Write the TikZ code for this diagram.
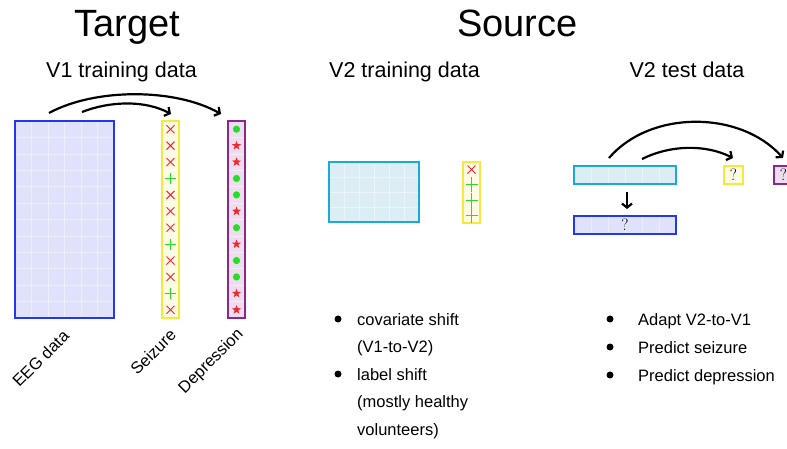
\documentclass[tikz,border=0pt]{standalone}
\usepackage{fontspec}
\newfontfamily\arial{Liberation Sans}
\usetikzlibrary{arrows.meta,shapes.geometric}
\definecolor{eegblue}{RGB}{35,55,235}
\definecolor{eegfill}{RGB}{224,225,250}
\definecolor{cyanb}{RGB}{25,170,215}
\definecolor{cyanfill}{RGB}{220,237,243}
\definecolor{yelb}{RGB}{248,232,60}
\definecolor{yelfill}{RGB}{253,251,228}
\definecolor{purb}{RGB}{140,40,140}
\definecolor{purfill}{RGB}{236,222,238}
\definecolor{symred}{RGB}{240,40,50}
\definecolor{symgreen}{RGB}{40,220,40}
\tikzset{
  box/.style={draw, line width=2pt, inner sep=0pt, outer sep=0pt},
  eegbox/.style={box, draw=eegblue, fill=eegfill},
  cyanbox/.style={box, draw=cyanb, fill=cyanfill},
  yelbox/.style={box, draw=yelb, fill=yelfill},
  purbox/.style={box, draw=purb, fill=purfill},
  gridline/.style={draw=white, line width=0.6pt, opacity=0.45},
  bigarrow/.style={line width=2.2pt, -{Straight Barb[length=4pt,width=10pt]}},
  title/.style={font=\arial\fontsize{38}{40}\selectfont, anchor=base},
  subtitle/.style={font=\arial\fontsize{21.5}{24}\selectfont, anchor=base},
  rotlabel/.style={font=\arial\fontsize{16.5}{18}\selectfont, rotate=45, anchor=east, inner sep=0pt},
  listtext/.style={font=\arial\fontsize{16.5}{18}\selectfont, anchor=base west, inner sep=0pt},
  bullet/.style={circle, fill=black, inner sep=0pt, minimum size=7pt},
  qmark/.style={font=\fontsize{16.5}{16.5}\selectfont},
  xmark/.pic={\draw[symred, line width=0.9pt] (-4,-4) -- (4,4) (-4,4) -- (4,-4);},
  pmark/.pic={\draw[symgreen, line width=0.9pt] (-5.5,0) -- (5.5,0) (0,-5.5) -- (0,5.5);},
  pmarklong/.pic={\draw[symgreen, line width=0.9pt] (-6,0) -- (6,0) (0,-7.6) -- (0,7.6);},
  dmark/.pic={\fill[symgreen] (0,0) circle (3.6pt);},
  smark/.pic={\node[star, star points=5, star point ratio=2.4, fill=symred, inner sep=0pt, minimum size=9.5pt] {};}
}
\begin{document}
\begin{tikzpicture}[x=1pt,y=-1pt]
\useasboundingbox (0,0) rectangle (787,449);

% titles
\node[title] (ttarget) at (127.5,37) {Target};
\node[title] (tsource) at (517.5,37) {Source};
\node[subtitle] (sv1) at (121.5,78) {V1 training data};
\node[subtitle] (sv2) at (404.5,78) {V2 training data};
\node[subtitle] (sv2t) at (687,78) {V2 test data};

% ---------- V1 training data ----------
\node[eegbox, minimum width=99pt, minimum height=197pt] (eeg) at (64.5,219.5) {};
\foreach \i in {1,...,5} \draw[gridline] ({15+\i*16.5},122) -- ({15+\i*16.5},317);
\foreach \i in {1,...,11} \draw[gridline] (16,{121+\i*16.4167}) -- (113,{121+\i*16.4167});
\draw[eegblue, line width=2pt] (eeg.north west) rectangle (eeg.south east);

\node[yelbox, minimum width=17pt, minimum height=197pt] (sz1) at (170.5,219.5) {};
\node[purbox, minimum width=17pt, minimum height=197pt] (dp1) at (236.5,219.5) {};
\foreach \i in {1,...,11} {
  \draw[gridline] (163,{121+\i*16.4167}) -- (178,{121+\i*16.4167});
  \draw[gridline] (229,{121+\i*16.4167}) -- (244,{121+\i*16.4167});
}
\foreach \t [count=\i] in {0,0,0,1,0,0,0,1,0,0,1,0}{
  \pgfmathsetmacro\yy{121+(\i-0.5)*16.4167}
  \ifnum\t=0 \pic at (170.5,\yy) {xmark}; \else \pic at (170.5,\yy) {pmark}; \fi
}
\foreach \t [count=\i] in {0,1,1,0,0,1,0,1,0,0,1,1}{
  \pgfmathsetmacro\yy{121+(\i-0.5)*16.4167}
  \ifnum\t=0 \pic at (236.5,\yy) {dmark}; \else \pic at (236.5,\yy) {smark}; \fi
}

\coordinate (a1s) at (49,113);
\coordinate (a1e) at (221,114);
\coordinate (a2s) at (82,112);
\coordinate (a2e) at (171,114);
\draw[bigarrow] (a1s) .. controls (95,88) and (175,88) .. (a1e);
\draw[bigarrow] (a2s) .. controls (110,101) and (145,100) .. (a2e);

\node[rotlabel] (leeg) at (66,333) {EEG data};
\node[rotlabel] (lsz) at (173,332) {Seizure};
\node[rotlabel] (ldp) at (241,332) {Depression};

% ---------- V2 training data ----------
\node[cyanbox, minimum width=90pt, minimum height=60pt] (v2x) at (374,192) {};
\foreach \i in {1,...,5} \draw[gridline] ({329+\i*15},163) -- ({329+\i*15},221);
\foreach \i in {1,...,3} \draw[gridline] (330,{162+\i*15}) -- (418,{162+\i*15});
\draw[cyanb, line width=2pt] (v2x.north west) rectangle (v2x.south east);

\node[yelbox, minimum width=17pt, minimum height=61pt] (sz2) at (471.5,192.5) {};
\pic at (471.5,169.6) {xmark};
\foreach \i in {2,3,4} \pic at (471.5,{162+(\i-0.5)*15.25}) {pmarklong};

% ---------- V2 test data ----------
\node[cyanbox, minimum width=102pt, minimum height=18pt] (tx) at (625,175) {};
\node[eegbox, minimum width=102pt, minimum height=18pt] (ty) at (625,225) {};
\foreach \i in {1,...,5} {
  \draw[gridline] ({574+\i*17},167) -- ({574+\i*17},183);
  \draw[gridline] ({574+\i*17},217) -- ({574+\i*17},233);
}
\node[qmark] (tyq) at (ty.center) {?};
\node[yelbox, minimum width=19pt, minimum height=18pt, qmark] (tsz) at (733.5,175) {?};
\node[purbox, minimum width=19pt, minimum height=18pt, qmark] (tdp) at (783.5,175) {?};

\draw[bigarrow, shorten <=8pt, shorten >=7pt] ([xshift=2pt]tx.south) -- ([xshift=2pt]ty.north);

\coordinate (b1s) at (609,158);
\coordinate (b1e) at (783,158);
\coordinate (b2s) at (642,159);
\coordinate (b2e) at (733,158);
\draw[bigarrow] (b1s) .. controls (650,110) and (740,110) .. (b1e);
\draw[bigarrow] (b2s) .. controls (670,145) and (705,144) .. (b2e);

% ---------- lists ----------
\node[bullet] (bl1) at (338,319) {};
\node[listtext] (tl1) at (357,325) {covariate shift};
\node[listtext] (tl2) at (357,352.5) {(V1-to-V2)};
\node[bullet] (bl2) at (338,374) {};
\node[listtext] (tl3) at (357,380) {label shift};
\node[listtext] (tl4) at (357,407.5) {(mostly healthy};
\node[listtext] (tl5) at (357,435) {volunteers)};

\node[bullet] (br1) at (610,319) {};
\node[listtext] (tr1) at (638,325) {Adapt V2-to-V1};
\node[bullet] (br2) at (610,347) {};
\node[listtext] (tr2) at (638,353) {Predict seizure};
\node[bullet] (br3) at (610,375) {};
\node[listtext] (tr3) at (638,381) {Predict depression};
\end{tikzpicture}
\end{document}
